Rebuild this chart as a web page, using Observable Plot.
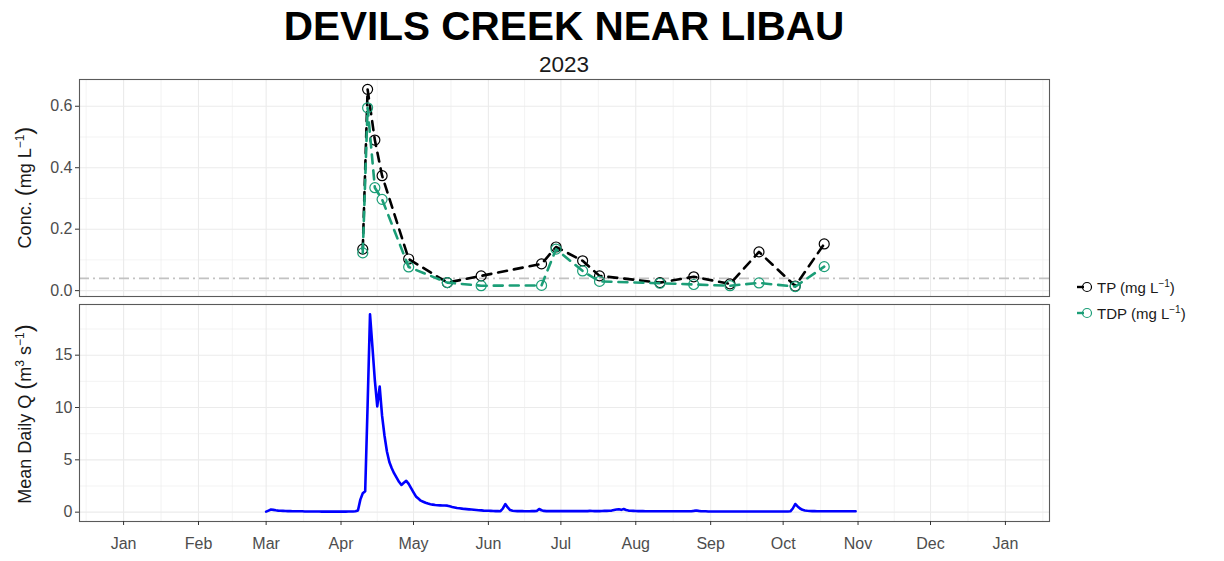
<!DOCTYPE html>
<html>
<head>
<meta charset="utf-8">
<script src="https://cdn.jsdelivr.net/npm/d3@7"></script>
<script src="https://cdn.jsdelivr.net/npm/@observablehq/plot@0.6"></script>
<style>
  body { margin: 0; background: #fff; font-family: "Liberation Sans", Arial, sans-serif; }
  #wrap { position: relative; width: 1224px; height: 561px; overflow: hidden; background: #fff; }
</style>
</head>
<body>
<div id="wrap">
  <div id="top" style="position:absolute;left:0;top:71px"></div>
  <div id="bot" style="position:absolute;left:0;top:300px"></div>
  <svg id="overlay" width="1224" height="561" style="position:absolute;left:0;top:0;pointer-events:none" font-family="Liberation Sans, Arial, sans-serif">
    <text x="564" y="39.5" text-anchor="middle" font-size="40.5" font-weight="bold" fill="#000">DEVILS CREEK NEAR LIBAU</text>
    <text x="564" y="72" text-anchor="middle" font-size="22.5" fill="#1a1a1a">2023</text>
    <g transform="translate(31,187.5) rotate(-90)" fill="#1a1a1a" font-size="18">
      <text text-anchor="middle">Conc. <tspan font-size="24" dy="1">(</tspan><tspan dy="-1">mg L</tspan><tspan font-size="12" dy="-7">−1</tspan><tspan font-size="24" dy="8">)</tspan></text>
    </g>
    <g transform="translate(31,414) rotate(-90)" fill="#1a1a1a" font-size="18">
      <text text-anchor="middle">Mean Daily Q <tspan font-size="24" dy="1">(</tspan><tspan dy="-1">m</tspan><tspan font-size="12" dy="-7">3</tspan><tspan dy="7"> s</tspan><tspan font-size="12" dy="-7">−1</tspan><tspan font-size="24" dy="8">)</tspan></text>
    </g>
    <g id="legend"></g>
  </svg>
</div>
<script>
// ---- Data ----
const sampleDates = ["2023-04-10","2023-04-12","2023-04-15","2023-04-18","2023-04-29","2023-05-15","2023-05-29","2023-06-23","2023-06-29","2023-07-10","2023-07-17","2023-08-11","2023-08-25","2023-09-09","2023-09-21","2023-10-06","2023-10-18"];
const tpValues  = [0.135,0.655,0.49,0.374,0.103,0.026,0.048,0.087,0.142,0.097,0.048,0.026,0.045,0.022,0.126,0.015,0.152];
const tdpValues = [0.123,0.595,0.335,0.297,0.077,0.026,0.016,0.017,0.135,0.064,0.030,0.024,0.020,0.016,0.025,0.013,0.078];
const detectionLimit = 0.04;

const flowStart = "2023-03-01";
const flowMar = [0.05,0.15,0.25,0.22,0.18,0.15,0.13,0.12,0.11,0.1,0.1,0.09,0.09,0.08,0.08,0.08,0.07,0.07,0.07,0.06,0.06,0.06,0.06,0.05,0.05,0.05,0.05,0.05,0.05,0.05,0.05];
const flowApr = [0.05,0.05,0.05,0.06,0.06,0.07,0.08,0.15,1.2,1.8,2.0,10.2,18.9,15.8,12.6,10.1,12.0,9.2,7.3,5.8,4.8,4.2,3.7,3.3,2.9,2.6,2.8,3.0,2.7,2.3];
const flowMay = [1.9,1.5,1.3,1.1,1.0,0.9,0.82,0.76,0.72,0.68,0.66,0.65,0.64,0.63,0.62,0.56,0.5,0.45,0.4,0.37,0.34,0.31,0.29,0.27,0.25,0.23,0.21,0.19,0.17,0.15,0.14];
const flowJun = [0.13,0.12,0.11,0.1,0.1,0.09,0.35,0.77,0.45,0.2,0.13,0.11,0.1,0.1,0.1,0.09,0.09,0.09,0.1,0.1,0.12,0.3,0.18,0.12,0.1,0.1,0.1,0.1,0.1,0.1];
const flowJul = [0.1,0.1,0.1,0.11,0.1,0.1,0.1,0.1,0.11,0.1,0.1,0.1,0.12,0.11,0.1,0.1,0.1,0.11,0.12,0.12,0.13,0.15,0.2,0.25,0.28,0.22,0.3,0.2,0.15,0.13,0.12];
const flowAug = [0.11,0.1,0.1,0.1,0.09,0.09,0.09,0.09,0.09,0.08,0.08,0.08,0.08,0.08,0.08,0.08,0.08,0.08,0.08,0.08,0.08,0.08,0.08,0.09,0.12,0.16,0.12,0.09,0.08,0.08,0.07];
const flowSep = [0.07,0.07,0.07,0.07,0.07,0.07,0.07,0.07,0.07,0.07,0.06,0.06,0.06,0.06,0.06,0.06,0.06,0.06,0.06,0.06,0.07,0.07,0.07,0.07,0.07,0.07,0.07,0.07,0.07,0.07];
const flowOct = [0.07,0.07,0.07,0.08,0.35,0.78,0.55,0.35,0.22,0.16,0.13,0.11,0.1,0.1,0.09,0.09,0.09,0.09,0.08,0.08,0.08,0.08,0.08,0.08,0.08,0.08,0.08,0.08,0.08,0.08,0.08];

const monthLabels = ["Jan","Feb","Mar","Apr","May","Jun","Jul","Aug","Sep","Oct","Nov","Dec","Jan"];
const concTicks = [0, 0.2, 0.4, 0.6];
const flowTicks = [0, 5, 10, 15];

const seriesNames = ["TP", "TDP"];
const seriesColors = ["#000000", "#1b9e77"];

// ---- Build tables ----
const samples = sampleDates.map((d, i) => ({date: new Date(d + "T00:00:00Z"), TP: tpValues[i], TDP: tdpValues[i]}));
const flowVals = [].concat(flowMar, flowApr, flowMay, flowJun, flowJul, flowAug, flowSep, flowOct);
const f0 = new Date(flowStart + "T00:00:00Z");
const flow = flowVals.map((v, i) => ({date: d3.utcDay.offset(f0, i), q: v}));

// ---- Scales ----
const x0 = new Date(Date.UTC(2023, 0, 1)), x1 = new Date(Date.UTC(2024, 0, 1));
const xpad = (x1 - x0) * 0.05;
const xDomain = [new Date(+x0 - xpad), new Date(+x1 + xpad)];
const majorX = d3.utcMonth.range(x0, d3.utcDay.offset(x1, 1));
const minorX = [];
for (let i = -1; i < majorX.length; i++) {
  const a = i < 0 ? d3.utcMonth.offset(majorX[0], -1) : majorX[i];
  const b = i + 1 < majorX.length ? majorX[i + 1] : d3.utcMonth.offset(majorX[i], 1);
  const m = new Date((+a + +b) / 2);
  if (m >= xDomain[0] && m <= xDomain[1]) minorX.push(m);
}
function expand(vals) {
  const [lo, hi] = d3.extent(vals);
  const p = (hi - lo) * 0.05;
  return [lo - p, hi + p];
}
const yTopDomain = expand(tpValues.concat(tdpValues));
const yBotDomain = expand(flowVals);
const mid = t => t.slice(0, -1).map((v, i) => (v + t[i + 1]) / 2).concat([t[t.length - 1] + (t[1] - t[0]) / 2]);

const gridColor = "#ebebeb";
const common = {
  width: 1224,
  marginLeft: 79,
  marginRight: 175,
  style: {fontFamily: "Liberation Sans, Arial, sans-serif", fontSize: "16px", color: "#4d4d4d", background: "transparent", overflow: "visible"}
};

const topPlot = Plot.plot({
  ...common,
  height: 231,
  marginTop: 8,
  marginBottom: 6,
  x: {type: "utc", domain: xDomain, axis: null},
  y: {domain: yTopDomain},
  marks: [
    Plot.gridX(minorX, {stroke: gridColor, strokeOpacity: 1, strokeWidth: 0.6}),
    Plot.gridX(majorX, {stroke: gridColor, strokeOpacity: 1, strokeWidth: 1.1}),
    Plot.gridY(mid(concTicks).filter(v => v <= yTopDomain[1]), {stroke: gridColor, strokeOpacity: 1, strokeWidth: 0.6}),
    Plot.gridY(concTicks, {stroke: gridColor, strokeOpacity: 1, strokeWidth: 1.1}),
    Plot.ruleY([detectionLimit], {stroke: "#c2c2c2", strokeWidth: 1.6, strokeDasharray: "10,4,2,4"}),
    Plot.line(samples, {x: "date", y: "TP", stroke: seriesColors[0], strokeWidth: 2.6, strokeDasharray: "9,7"}),
    Plot.dot(samples, {x: "date", y: "TP", r: 5, stroke: seriesColors[0], strokeWidth: 1.2, fill: "none"}),
    Plot.line(samples, {x: "date", y: "TDP", stroke: seriesColors[1], strokeWidth: 2.6, strokeDasharray: "9,7"}),
    Plot.dot(samples, {x: "date", y: "TDP", r: 5, stroke: seriesColors[1], strokeWidth: 1.2, fill: "none"}),
    Plot.frame({stroke: "#5a5a5a", strokeWidth: 1.1}),
    Plot.axisY({ticks: concTicks, tickFormat: d3.format(".1f"), tickSize: 4, tickPadding: 3, label: null, stroke: "#333"})
  ]
});

const botPlot = Plot.plot({
  ...common,
  height: 261,
  marginTop: 4,
  marginBottom: 40,
  x: {type: "utc", domain: xDomain},
  y: {domain: yBotDomain},
  marks: [
    Plot.gridX(minorX, {stroke: gridColor, strokeOpacity: 1, strokeWidth: 0.6}),
    Plot.gridX(majorX, {stroke: gridColor, strokeOpacity: 1, strokeWidth: 1.1}),
    Plot.gridY(mid(flowTicks).filter(v => v <= yBotDomain[1]), {stroke: gridColor, strokeOpacity: 1, strokeWidth: 0.6}),
    Plot.gridY(flowTicks, {stroke: gridColor, strokeOpacity: 1, strokeWidth: 1.1}),
    Plot.line(flow, {x: "date", y: "q", stroke: "#0000ff", strokeWidth: 2.6}),
    Plot.frame({stroke: "#5a5a5a", strokeWidth: 1.1}),
    Plot.axisY({ticks: flowTicks, tickFormat: d => String(d), tickSize: 4, tickPadding: 3, label: null, stroke: "#333"}),
    Plot.axisX({ticks: majorX, tickFormat: (d, i) => monthLabels[i], tickSize: 4, tickPadding: 12, label: null, stroke: "#333"})
  ]
});

document.getElementById("top").appendChild(topPlot);
document.getElementById("bot").appendChild(botPlot);

// ---- Legend ----
const ns = "http://www.w3.org/2000/svg";
const lg = document.getElementById("legend");
const rowsY = [287, 313];
seriesNames.forEach((name, i) => {
  const y = rowsY[i];
  const line = document.createElementNS(ns, "line");
  line.setAttribute("x1", 1077); line.setAttribute("x2", 1084);
  line.setAttribute("y1", y); line.setAttribute("y2", y);
  line.setAttribute("stroke", seriesColors[i]); line.setAttribute("stroke-width", 2.4);
  lg.appendChild(line);
  const c = document.createElementNS(ns, "circle");
  c.setAttribute("cx", 1087); c.setAttribute("cy", y); c.setAttribute("r", 4.5);
  c.setAttribute("fill", "none"); c.setAttribute("stroke", seriesColors[i]); c.setAttribute("stroke-width", 1.2);
  lg.appendChild(c);
  const t = document.createElementNS(ns, "text");
  t.setAttribute("x", 1097); t.setAttribute("y", y + 5.5);
  t.setAttribute("font-size", 15); t.setAttribute("fill", "#1a1a1a");
  t.innerHTML = name + ' (mg L<tspan font-size="10" dy="-6">−1</tspan><tspan dy="6">)</tspan>';
  lg.appendChild(t);
});
</script>
</body>
</html>
